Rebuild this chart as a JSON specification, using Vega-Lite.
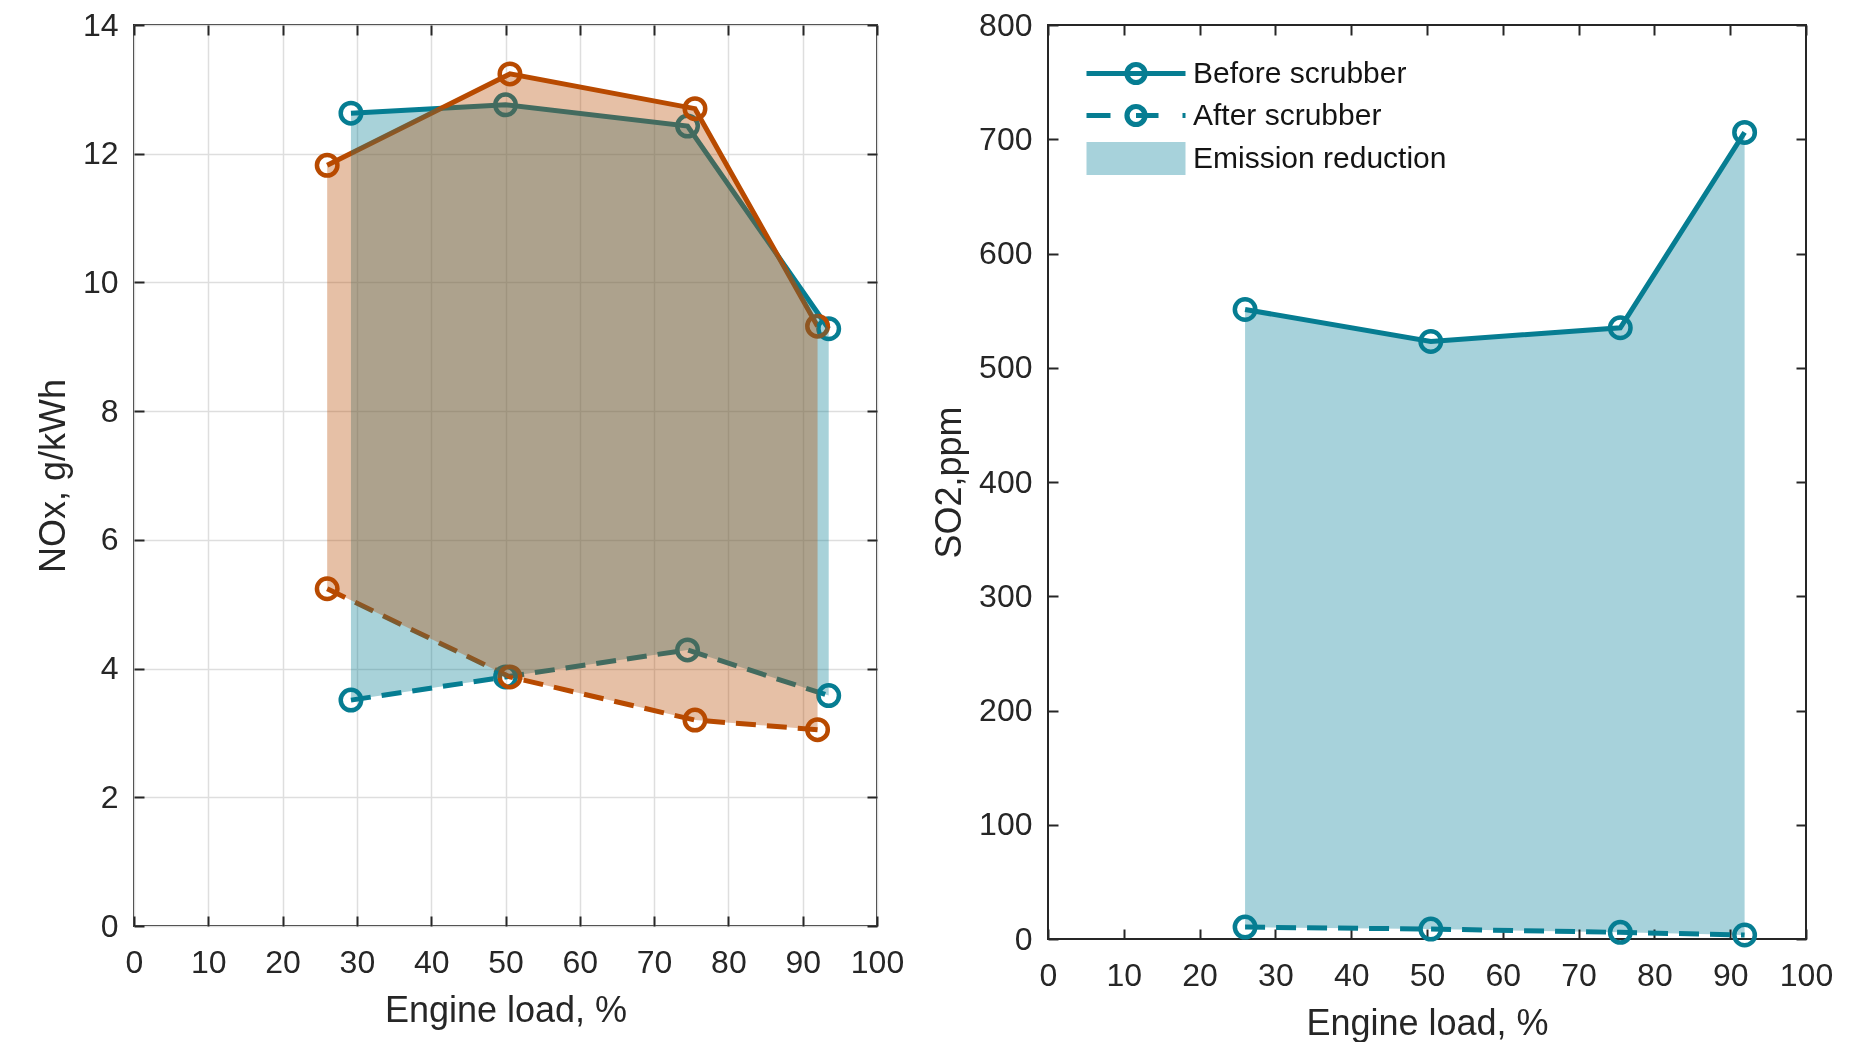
{
  "$schema": "https://vega.github.io/schema/vega-lite/v6.json",
  "background": "white",
  "padding": {"left": 34, "top": 8, "right": 0, "bottom": 0},
  "spacing": 25,
  "resolve": {"scale": {"color": "independent"}, "legend": {"color": "independent"}},
  "config": {
    "font": "Liberation Sans",
    "view": {"stroke": "#262626", "strokeWidth": 2},
    "axis": {
      "labelFontSize": 32, "titleFontSize": 36, "labelFont": "Liberation Sans", "titleFont": "Liberation Sans",
      "labelColor": "#262626", "titleColor": "#262626", "titleFontWeight": "normal",
      "gridColor": "#dedede", "gridWidth": 1.5, "tickColor": "#262626", "tickWidth": 2, "tickSize": -10,
      "domain": false, "labelFlush": false, "labelOverlap": false
    }
  },
  "datasets": {
    "nox": [
      {"engine": "A", "load": 29.2, "before": 12.63, "after": 3.51},
      {"engine": "A", "load": 50.0, "before": 12.76, "after": 3.87},
      {"engine": "A", "load": 74.5, "before": 12.43, "after": 4.29},
      {"engine": "A", "load": 93.5, "before": 9.28, "after": 3.58},
      {"engine": "B", "load": 26.0, "before": 11.82, "after": 5.24},
      {"engine": "B", "load": 50.6, "before": 13.24, "after": 3.87},
      {"engine": "B", "load": 75.5, "before": 12.70, "after": 3.20},
      {"engine": "B", "load": 92.0, "before": 9.32, "after": 3.05}
    ],
    "so2": [
      {"load": 26.0, "before": 551, "after": 10.4},
      {"load": 50.5, "before": 523, "after": 8.7},
      {"load": 75.5, "before": 535, "after": 5.8},
      {"load": 91.9, "before": 706, "after": 3.5}
    ]
  },
  "hconcat": [
    {
      "width": 743, "height": 901,
      "data": {"name": "nox"},
      "resolve": {"axis": {"x": "independent", "y": "independent"}},
      "layer": [
        {
          "mark": {"type": "line", "strokeWidth": 5},
          "encoding": {
            "x": {"field": "load", "type": "quantitative", "scale": {"domain": [0, 100], "nice": false},
                  "axis": {"orient": "bottom", "title": "Engine load, %", "values": [0,10,20,30,40,50,60,70,80,90,100], "labelPadding": 31, "titlePadding": 15}},
            "y": {"field": "before", "type": "quantitative", "scale": {"domain": [0, 14], "nice": false},
                  "axis": {"orient": "left", "title": "NOx, g/kWh", "values": [0,2,4,6,8,10,12,14], "labelPadding": 26, "titlePadding": 10}},
            "color": {"field": "engine", "type": "nominal", "scale": {"domain": ["A", "B"], "range": ["#067d92", "#b84a00"]}, "legend": null}
          }
        },
        {
          "mark": {"type": "line", "strokeWidth": 5, "strokeDash": [20, 11]},
          "encoding": {
            "x": {"field": "load", "type": "quantitative", "axis": null},
            "y": {"field": "after", "type": "quantitative", "axis": null},
            "color": {"field": "engine", "type": "nominal", "legend": null}
          }
        },
        {
          "mark": {"type": "point", "filled": false, "strokeWidth": 4.5, "size": 420, "opacity": 1},
          "encoding": {
            "x": {"field": "load", "type": "quantitative", "axis": null},
            "y": {"field": "before", "type": "quantitative", "axis": null},
            "color": {"field": "engine", "type": "nominal", "legend": null}
          }
        },
        {
          "mark": {"type": "point", "filled": false, "strokeWidth": 4.5, "size": 420, "opacity": 1},
          "encoding": {
            "x": {"field": "load", "type": "quantitative", "axis": null},
            "y": {"field": "after", "type": "quantitative", "axis": null},
            "color": {"field": "engine", "type": "nominal", "legend": null}
          }
        },
        {
          "transform": [{"filter": "datum.engine === 'A'"}],
          "mark": {"type": "area", "fillOpacity": 0.35},
          "encoding": {
            "x": {"field": "load", "type": "quantitative",
                  "axis": {"orient": "top", "labels": false, "grid": false, "title": null, "values": [0,10,20,30,40,50,60,70,80,90,100]}},
            "y": {"field": "before", "type": "quantitative",
                  "axis": {"orient": "right", "labels": false, "grid": false, "title": null, "values": [0,2,4,6,8,10,12,14]}},
            "y2": {"field": "after"},
            "color": {"field": "engine", "type": "nominal", "legend": null}
          }
        },
        {
          "transform": [{"filter": "datum.engine === 'B'"}],
          "mark": {"type": "area", "fillOpacity": 0.35},
          "encoding": {
            "x": {"field": "load", "type": "quantitative", "axis": null},
            "y": {"field": "before", "type": "quantitative", "axis": null},
            "y2": {"field": "after"},
            "color": {"field": "engine", "type": "nominal", "legend": null}
          }
        }
      ]
    },
    {
      "width": 758, "height": 914,
      "data": {"name": "so2"},
      "resolve": {"axis": {"x": "independent", "y": "independent"}},
      "layer": [
        {
          "mark": {"type": "area", "fillOpacity": 1, "blend": "multiply"},
          "encoding": {
            "x": {"field": "load", "type": "quantitative", "scale": {"domain": [0, 100], "nice": false},
                  "axis": {"orient": "top", "labels": false, "grid": false, "title": null, "values": [0,10,20,30,40,50,60,70,80,90,100]}},
            "y": {"field": "before", "type": "quantitative", "scale": {"domain": [0, 800], "nice": false},
                  "axis": {"orient": "right", "labels": false, "grid": false, "title": null, "values": [0,100,200,300,400,500,600,700,800]}},
            "y2": {"field": "after"},
            "color": {
              "datum": "Emission reduction", "type": "nominal",
              "scale": {"domain": ["Before scrubber", "After scrubber", "Emission reduction"], "range": ["#067d92", "#067d92", "#a7d2db"]},
              "legend": {
                "title": null, "orient": "none", "legendX": 36, "legendY": 26, "padding": 0,
                "labelFontSize": 30, "labelFont": "Liberation Sans", "labelColor": "#141414", "labelLimit": 500,
                "symbolSize": 1600, "symbolType": "M-1,0H3.95", "symbolStrokeWidth": 5,
                "labelOffset": 64, "rowPadding": -1,
                "encode": {
                  "symbols": {
                    "update": {
                      "shape": {"signal": "datum.value === 'Before scrubber' ? 'M-1,0H3.95M1.93,0A0.455,0.455 0 1,1 1.02,0A0.455,0.455 0 1,1 1.93,0ZM1.92,0A0.445,0.445 0 1,0 1.03,0A0.445,0.445 0 1,0 1.92,0Z' : (datum.value === 'After scrubber' ? 'M-1,0H0.2M1.475,0H2.6M3.8,0H3.95M1.93,0A0.455,0.455 0 1,1 1.02,0A0.455,0.455 0 1,1 1.93,0ZM1.92,0A0.445,0.445 0 1,0 1.03,0A0.445,0.445 0 1,0 1.92,0Z' : 'M-0.875,-0.7H3.825V0.7H-0.875Z')"},
                      "strokeWidth": {"value": 5},
                      "size": {"value": 1600}
                    }
                  }
                }
              }
            }
          }
        },
        {
          "mark": {"type": "line", "strokeWidth": 5},
          "encoding": {
            "x": {"field": "load", "type": "quantitative",
                  "axis": {"orient": "bottom", "title": "Engine load, %", "values": [0,10,20,30,40,50,60,70,80,90,100], "labelPadding": 31, "titlePadding": 15}},
            "y": {"field": "before", "type": "quantitative",
                  "axis": {"orient": "left", "title": "SO2,ppm", "values": [0,100,200,300,400,500,600,700,800], "labelPadding": 26, "titlePadding": 10}},
            "color": {"datum": "Before scrubber", "type": "nominal"}
          }
        },
        {
          "mark": {"type": "line", "strokeWidth": 5, "strokeDash": [20, 11]},
          "encoding": {
            "x": {"field": "load", "type": "quantitative", "axis": null},
            "y": {"field": "after", "type": "quantitative", "axis": null},
            "color": {"datum": "After scrubber", "type": "nominal"}
          }
        },
        {
          "mark": {"type": "point", "filled": false, "strokeWidth": 4.5, "size": 420, "opacity": 1},
          "encoding": {
            "x": {"field": "load", "type": "quantitative", "axis": null},
            "y": {"field": "before", "type": "quantitative", "axis": null},
            "color": {"datum": "Before scrubber", "type": "nominal"}
          }
        },
        {
          "mark": {"type": "point", "filled": false, "strokeWidth": 4.5, "size": 420, "opacity": 1},
          "encoding": {
            "x": {"field": "load", "type": "quantitative", "axis": null},
            "y": {"field": "after", "type": "quantitative", "axis": null},
            "color": {"datum": "After scrubber", "type": "nominal"}
          }
        }
      ]
    }
  ]
}
